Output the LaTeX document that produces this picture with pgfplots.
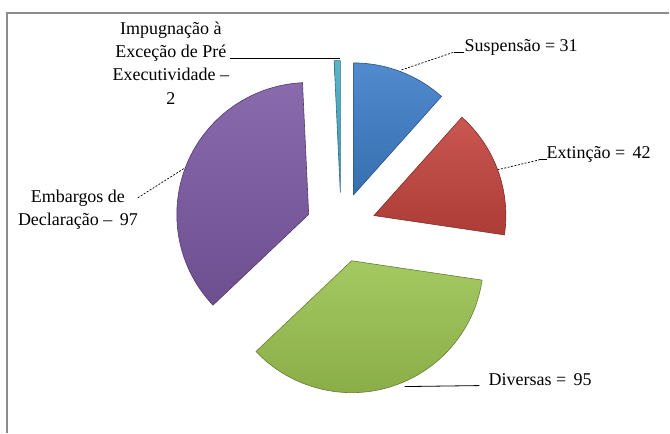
\documentclass[border=0pt]{standalone}
\usepackage{fontspec}
\setmainfont{Liberation Serif}
\usepackage{pgfplots}
\usepackage{pgfplotstable}
\pgfplotsset{compat=1.18}
\definecolor{pblue}{RGB}{62,126,200}
\definecolor{pred}{RGB}{196,68,62}
\definecolor{pgreen}{RGB}{155,195,80}
\definecolor{ppurple}{RGB}{124,90,164}
\definecolor{pcyan}{RGB}{72,170,198}
\pgfdeclareplotmark{empty}{}

% slices clockwise from 12 o'clock; cum = sum of the values before
\pgfplotstableread{
idx value cum
0 31 0
1 42 31
2 95 73
3 97 168
4 2 265
}\piedata

\begin{document}
\begin{tikzpicture}[lbl/.style={font=\fontsize{18}{23.3}\selectfont, inner sep=0pt}]
\begin{axis}[
  width=670pt,height=433pt,scale only axis,
  xmin=0,xmax=670,ymin=0,ymax=433,y dir=reverse,
  hide axis,clip=false,
]
\path (axis cs:0,0) rectangle (axis cs:670,433);
\draw[gray!90,line width=1.5pt] (axis cs:7,433) -- (axis cs:7,13) -- (axis cs:670,13);

\addplot[scatter,only marks,mark=empty,
  visualization depends on={\thisrow{idx}\as\idxf},
  visualization depends on={\thisrow{value}\as\val},
  visualization depends on={\thisrow{cum}\as\cumv},
  scatter/@pre marker code/.code={%
    \pgfmathtruncatemacro\idx{round(\idxf)}%
    \pgfmathsetmacro\aA{90-\cumv/267*360}%
    \pgfmathsetmacro\aB{90-(\cumv+\val)/267*360}%
    \ifcase\idx\def\pc{pblue}\or\def\pc{pred}\or\def\pc{pgreen}\or\def\pc{ppurple}\or\def\pc{pcyan}\fi
    \shade[top color=\pc!90!white,bottom color=\pc!88!black,draw=\pc!65!black,line width=0.6pt]
      (0,0) -- (\aA:132pt) arc[start angle=\aA,end angle=\aB,radius=132pt] -- cycle;
  },
  scatter/@post marker code/.code={},
] table[x expr={341.5+35*sin((\thisrow{cum}+\thisrow{value}/2)/267*360)},
        y expr={227.7-35*cos((\thisrow{cum}+\thisrow{value}/2)/267*360)}] {\piedata};

% labels and leader lines
\draw[line width=0.8pt] (axis cs:230,58) -- (axis cs:340,58);
\node[lbl,align=center] at (axis cs:171,63) {Impugnação à\\Exceção de Pré\\Executividade –\\2};

\draw[line width=0.7pt,dash pattern=on 2pt off 1.5pt] (axis cs:402,70) -- (axis cs:455,52);
\draw[line width=0.8pt] (axis cs:455,52) -- (axis cs:465,52);
\node[lbl,anchor=west] at (axis cs:465,47) {Suspensão = 31};

\draw[line width=0.7pt,dash pattern=on 2pt off 1.5pt] (axis cs:498,170) -- (axis cs:540,160);
\draw[line width=0.8pt] (axis cs:540,160) -- (axis cs:548,160);
\node[lbl,anchor=west] at (axis cs:547,155) {Extinção =\, 42};

\draw[line width=0.8pt] (axis cs:405,387) -- (axis cs:480,386);
\node[lbl,anchor=west] at (axis cs:489,380) {Diversas =\, 95};

\draw[line width=0.7pt,dash pattern=on 2pt off 1.5pt] (axis cs:138,198) -- (axis cs:190,165);
\node[lbl,align=center] at (axis cs:78,210) {Embargos de\\Declaração –\, 97};
\end{axis}
\end{tikzpicture}
\end{document}
